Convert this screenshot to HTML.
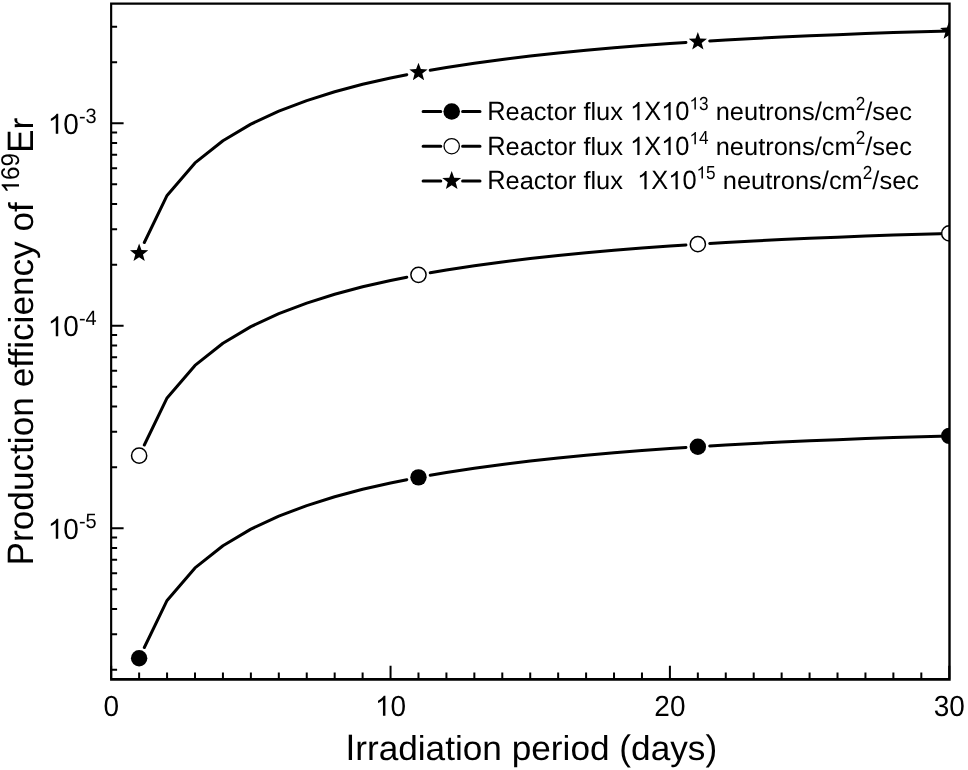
<!DOCTYPE html>
<html><head><meta charset="utf-8"><style>
html,body{margin:0;padding:0;background:#fff;width:968px;height:770px;overflow:hidden;}
svg{display:block;font-family:"Liberation Sans",sans-serif;filter:grayscale(1);text-rendering:geometricPrecision;}
</style></head><body>
<svg width="968" height="770" viewBox="0 0 968 770">
<defs>
<clipPath id="pc"><rect x="111.2" y="3.5" width="838.0999999999999" height="675.7"/></clipPath>
</defs>
<rect x="0" y="0" width="968" height="770" fill="#fff"/>
<g clip-path="url(#pc)"><g fill="none" stroke="#000" stroke-width="3.0" stroke-linejoin="round" stroke-linecap="round">
<polyline points="144.32,647.49 167.07,600.42 195.00,567.91 222.94,545.71 250.88,529.15 278.81,516.14 306.75,505.57 334.68,496.77 362.62,489.32 390.55,482.92 406.81,479.69"/>
<polyline points="430.21,475.32 446.42,472.50 474.35,468.21 502.29,464.41 530.23,461.02 558.16,457.98 586.10,455.25 614.03,452.79 641.97,450.56 669.90,448.54 685.96,447.48"/>
<polyline points="709.71,445.99 725.77,445.03 753.71,443.51 781.64,442.11 809.58,440.84 837.51,439.67 865.45,438.60 893.38,437.62 921.32,436.71 949.25,435.88"/>
<polyline points="144.32,444.99 167.07,397.92 195.00,365.41 222.94,343.21 250.88,326.65 278.81,313.64 306.75,303.07 334.68,294.27 362.62,286.82 390.55,280.42 406.81,277.19"/>
<polyline points="430.21,272.82 446.42,270.00 474.35,265.71 502.29,261.91 530.23,258.52 558.16,255.48 586.10,252.75 614.03,250.29 641.97,248.06 669.90,246.04 685.96,244.98"/>
<polyline points="709.71,243.49 725.77,242.53 753.71,241.01 781.64,239.61 809.58,238.34 837.51,237.17 865.45,236.10 893.38,235.12 921.32,234.21 949.25,233.38"/>
<polyline points="144.32,242.49 167.07,195.42 195.00,162.91 222.94,140.71 250.88,124.15 278.81,111.14 306.75,100.57 334.68,91.77 362.62,84.32 390.55,77.92 406.81,74.69"/>
<polyline points="430.21,70.32 446.42,67.50 474.35,63.21 502.29,59.41 530.23,56.02 558.16,52.98 586.10,50.25 614.03,47.79 641.97,45.56 669.90,43.54 685.96,42.48"/>
<polyline points="709.71,40.99 725.77,40.03 753.71,38.51 781.64,37.11 809.58,35.84 837.51,34.67 865.45,33.60 893.38,32.62 921.32,31.71 949.25,30.88"/>
</g>
<circle cx="139.13" cy="658.20" r="8.2" fill="#000"/>
<circle cx="418.48" cy="477.36" r="8.2" fill="#000"/>
<circle cx="697.84" cy="446.70" r="8.2" fill="#000"/>
<circle cx="949.25" cy="435.88" r="8.2" fill="#000"/>
<circle cx="139.13" cy="455.70" r="7.6" fill="#fff" stroke="#000" stroke-width="1.5"/>
<circle cx="418.48" cy="274.86" r="7.6" fill="#fff" stroke="#000" stroke-width="1.5"/>
<circle cx="697.84" cy="244.20" r="7.6" fill="#fff" stroke="#000" stroke-width="1.5"/>
<circle cx="949.25" cy="233.38" r="7.6" fill="#fff" stroke="#000" stroke-width="1.5"/>
<path d="M139.13,243.60 L141.50,249.94 L148.27,250.23 L142.97,254.45 L144.78,260.97 L139.13,257.23 L133.49,260.97 L135.30,254.45 L130.00,250.23 L136.77,249.94 Z" fill="#000"/>
<path d="M418.48,62.76 L420.85,69.10 L427.62,69.40 L422.32,73.61 L424.13,80.13 L418.48,76.40 L412.84,80.13 L414.65,73.61 L409.35,69.40 L416.12,69.10 Z" fill="#000"/>
<path d="M697.84,32.10 L700.20,38.44 L706.97,38.74 L701.67,42.95 L703.48,49.47 L697.84,45.73 L692.19,49.47 L694.00,42.95 L688.70,38.74 L695.47,38.44 Z" fill="#000"/>
<path d="M949.25,21.28 L951.62,27.62 L958.38,27.92 L953.08,32.13 L954.89,38.65 L949.25,34.91 L943.61,38.65 L945.42,32.13 L940.12,27.92 L946.88,27.62 Z" fill="#000"/>
</g>
<path d="M111.20,679.35 V665.80 M139.13,679.35 V672.50 M167.07,679.35 V672.50 M195.00,679.35 V672.50 M222.94,679.35 V672.50 M250.88,679.35 V672.50 M278.81,679.35 V672.50 M306.75,679.35 V672.50 M334.68,679.35 V672.50 M362.62,679.35 V672.50 M390.55,679.35 V665.80 M418.48,679.35 V672.50 M446.42,679.35 V672.50 M474.35,679.35 V672.50 M502.29,679.35 V672.50 M530.23,679.35 V672.50 M558.16,679.35 V672.50 M586.10,679.35 V672.50 M614.03,679.35 V672.50 M641.97,679.35 V672.50 M669.90,679.35 V665.80 M697.84,679.35 V672.50 M725.77,679.35 V672.50 M753.71,679.35 V672.50 M781.64,679.35 V672.50 M809.58,679.35 V672.50 M837.51,679.35 V672.50 M865.45,679.35 V672.50 M893.38,679.35 V672.50 M921.32,679.35 V672.50 M949.25,679.35 V665.80 M111.15,669.84 H117.10 M111.15,634.18 H117.10 M111.15,608.88 H117.10 M111.15,589.26 H117.10 M111.15,573.22 H117.10 M111.15,559.67 H117.10 M111.15,547.92 H117.10 M111.15,537.57 H117.10 M111.15,528.30 H123.60 M111.15,467.34 H117.10 M111.15,431.68 H117.10 M111.15,406.38 H117.10 M111.15,386.76 H117.10 M111.15,370.72 H117.10 M111.15,357.17 H117.10 M111.15,345.42 H117.10 M111.15,335.07 H117.10 M111.15,325.80 H123.60 M111.15,264.84 H117.10 M111.15,229.18 H117.10 M111.15,203.88 H117.10 M111.15,184.26 H117.10 M111.15,168.22 H117.10 M111.15,154.67 H117.10 M111.15,142.92 H117.10 M111.15,132.57 H117.10 M111.15,123.30 H123.60 M111.15,62.34 H117.10 M111.15,26.68 H117.10" stroke="#000" stroke-width="2.0" fill="none"/>
<path d="M110.075,2.450 H950.700 V4.750 H110.075 Z M110.075,678.050 H950.700 V680.650 H110.075 Z M110.075,2.450 H112.225 V680.650 H110.075 Z M948.300,2.450 H950.700 V680.650 H948.300 Z" fill="#000"/>
<g font-family="Liberation Sans, sans-serif" fill="#000">
<text x="103.414" y="715.800" font-size="28" transform="matrix(1 0 0 1.0400 0 -28.632)" xml:space="preserve">0</text>
<path d="M763,0 L583,0 L583,1147 Q518,1085 412,1023 Q306,961 222,930 L222,1104 Q373,1175 486,1276 Q599,1377 646,1466 L763,1466 Z" transform="matrix(0.01367 0 0 -0.01367 374.978 715.800)"/>
<text x="374.978" y="715.800" font-size="28" transform="matrix(1 0 0 1.0400 0 -28.632)" xml:space="preserve"> 0</text>
<text x="654.328" y="715.800" font-size="28" transform="matrix(1 0 0 1.0400 0 -28.632)" xml:space="preserve">20</text>
<text x="933.678" y="715.800" font-size="28" transform="matrix(1 0 0 1.0400 0 -28.632)" xml:space="preserve">30</text>
<path d="M763,0 L583,0 L583,1147 Q518,1085 412,1023 Q306,961 222,930 L222,1104 Q373,1175 486,1276 Q599,1377 646,1466 L763,1466 Z" transform="matrix(0.01367 0 0 -0.01367 47.800 133.800)"/>
<text x="47.800" y="133.800" font-size="28" transform="matrix(1 0 0 1.0400 0 -5.352)" xml:space="preserve"> 0</text>
<text x="78.945" y="122.900" font-size="20.0" transform="matrix(1 0 0 1.0088 0 -1.082)" xml:space="preserve">-</text>
<text x="85.605" y="122.900" font-size="20.0" transform="matrix(1 0 0 1.0400 0 -4.916)" xml:space="preserve">3</text>
<path d="M763,0 L583,0 L583,1147 Q518,1085 412,1023 Q306,961 222,930 L222,1104 Q373,1175 486,1276 Q599,1377 646,1466 L763,1466 Z" transform="matrix(0.01367 0 0 -0.01367 47.800 336.300)"/>
<text x="47.800" y="336.300" font-size="28" transform="matrix(1 0 0 1.0400 0 -13.452)" xml:space="preserve"> 0</text>
<text x="78.945" y="325.400" font-size="20.0" transform="matrix(1 0 0 1.0088 0 -2.864)" xml:space="preserve">-</text>
<text x="85.605" y="325.400" font-size="20.0" transform="matrix(1 0 0 1.0400 0 -13.016)" xml:space="preserve">4</text>
<path d="M763,0 L583,0 L583,1147 Q518,1085 412,1023 Q306,961 222,930 L222,1104 Q373,1175 486,1276 Q599,1377 646,1466 L763,1466 Z" transform="matrix(0.01367 0 0 -0.01367 47.800 538.800)"/>
<text x="47.800" y="538.800" font-size="28" transform="matrix(1 0 0 1.0400 0 -21.552)" xml:space="preserve"> 0</text>
<text x="78.945" y="527.900" font-size="20.0" transform="matrix(1 0 0 1.0088 0 -4.646)" xml:space="preserve">-</text>
<text x="85.605" y="527.900" font-size="20.0" transform="matrix(1 0 0 1.0400 0 -21.116)" xml:space="preserve">5</text>
<path d="M423.1,111.5 H440.8 M462.6,111.5 H480.0" stroke="#000" stroke-width="3" stroke-linecap="round" fill="none"/>
<circle cx="451.7" cy="111.5" r="8.3" fill="#000"/>
<text x="487.200" y="120.300" font-size="25.45" transform="matrix(1 0 0 1.0400 0 -4.812)" xml:space="preserve">R</text>
<text x="505.579" y="120.300" font-size="25.45" transform="matrix(1 0 0 0.9776 0 2.695)" xml:space="preserve">eactor</text>
<text x="583.383" y="120.300" font-size="25.45" transform="matrix(1 0 0 0.9776 0 2.695)" xml:space="preserve">flux</text>
<path d="M763,0 L583,0 L583,1147 Q518,1085 412,1023 Q306,961 222,930 L222,1104 Q373,1175 486,1276 Q599,1377 646,1466 L763,1466 Z" transform="matrix(0.01243 0 0 -0.01243 630.058 120.300)"/>
<path d="M763,0 L583,0 L583,1147 Q518,1085 412,1023 Q306,961 222,930 L222,1104 Q373,1175 486,1276 Q599,1377 646,1466 L763,1466 Z" transform="matrix(0.01243 0 0 -0.01243 661.187 120.300)"/>
<text x="630.058" y="120.300" font-size="25.45" transform="matrix(1 0 0 1.0400 0 -4.812)" xml:space="preserve"> X 0</text>
<path d="M763,0 L583,0 L583,1147 Q518,1085 412,1023 Q306,961 222,930 L222,1104 Q373,1175 486,1276 Q599,1377 646,1466 L763,1466 Z" transform="matrix(0.00840 0 0 -0.00840 689.495 109.600)"/>
<text x="689.495" y="109.600" font-size="17.2" transform="matrix(1 0 0 1.1000 0 -10.960)" xml:space="preserve"> 3</text>
<text x="715.698" y="120.300" font-size="25.45" transform="matrix(1 0 0 0.9776 0 2.695)" xml:space="preserve">neutrons</text>
<text x="814.739" y="120.300" font-size="25.45" transform="matrix(1 0 0 1.0088 0 -1.059)" xml:space="preserve">/</text>
<text x="821.810" y="120.300" font-size="25.45" transform="matrix(1 0 0 0.9776 0 2.695)" xml:space="preserve">cm</text>
<text x="855.735" y="109.600" font-size="17.2" transform="matrix(1 0 0 1.1000 0 -10.960)" xml:space="preserve">2</text>
<text x="865.301" y="120.300" font-size="25.45" transform="matrix(1 0 0 1.0088 0 -1.059)" xml:space="preserve">/</text>
<text x="872.371" y="120.300" font-size="25.45" transform="matrix(1 0 0 0.9776 0 2.695)" xml:space="preserve">sec</text>
<path d="M423.1,146.2 H440.8 M462.6,146.2 H480.0" stroke="#000" stroke-width="3" stroke-linecap="round" fill="none"/>
<circle cx="451.7" cy="146.2" r="7.65" fill="#fff" stroke="#000" stroke-width="1.3"/>
<text x="487.200" y="154.900" font-size="25.45" transform="matrix(1 0 0 1.0400 0 -6.196)" xml:space="preserve">R</text>
<text x="505.579" y="154.900" font-size="25.45" transform="matrix(1 0 0 0.9776 0 3.470)" xml:space="preserve">eactor</text>
<text x="583.383" y="154.900" font-size="25.45" transform="matrix(1 0 0 0.9776 0 3.470)" xml:space="preserve">flux</text>
<path d="M763,0 L583,0 L583,1147 Q518,1085 412,1023 Q306,961 222,930 L222,1104 Q373,1175 486,1276 Q599,1377 646,1466 L763,1466 Z" transform="matrix(0.01243 0 0 -0.01243 630.058 154.900)"/>
<path d="M763,0 L583,0 L583,1147 Q518,1085 412,1023 Q306,961 222,930 L222,1104 Q373,1175 486,1276 Q599,1377 646,1466 L763,1466 Z" transform="matrix(0.01243 0 0 -0.01243 661.187 154.900)"/>
<text x="630.058" y="154.900" font-size="25.45" transform="matrix(1 0 0 1.0400 0 -6.196)" xml:space="preserve"> X 0</text>
<path d="M763,0 L583,0 L583,1147 Q518,1085 412,1023 Q306,961 222,930 L222,1104 Q373,1175 486,1276 Q599,1377 646,1466 L763,1466 Z" transform="matrix(0.00840 0 0 -0.00840 689.495 144.200)"/>
<text x="689.495" y="144.200" font-size="17.2" transform="matrix(1 0 0 1.1000 0 -14.420)" xml:space="preserve"> 4</text>
<text x="715.698" y="154.900" font-size="25.45" transform="matrix(1 0 0 0.9776 0 3.470)" xml:space="preserve">neutrons</text>
<text x="814.739" y="154.900" font-size="25.45" transform="matrix(1 0 0 1.0088 0 -1.363)" xml:space="preserve">/</text>
<text x="821.810" y="154.900" font-size="25.45" transform="matrix(1 0 0 0.9776 0 3.470)" xml:space="preserve">cm</text>
<text x="855.735" y="144.200" font-size="17.2" transform="matrix(1 0 0 1.1000 0 -14.420)" xml:space="preserve">2</text>
<text x="865.301" y="154.900" font-size="25.45" transform="matrix(1 0 0 1.0088 0 -1.363)" xml:space="preserve">/</text>
<text x="872.371" y="154.900" font-size="25.45" transform="matrix(1 0 0 0.9776 0 3.470)" xml:space="preserve">sec</text>
<path d="M423.1,181.0 H440.8 M462.6,181.0 H480.0" stroke="#000" stroke-width="3" stroke-linecap="round" fill="none"/>
<path d="M451.70,171.10 L454.14,177.64 L461.12,177.94 L455.65,182.28 L457.52,189.01 L451.70,185.16 L445.88,189.01 L447.75,182.28 L442.28,177.94 L449.26,177.64 Z" fill="#000"/>
<text x="487.200" y="189.300" font-size="25.45" transform="matrix(1 0 0 1.0400 0 -7.572)" xml:space="preserve">R</text>
<text x="505.579" y="189.300" font-size="25.45" transform="matrix(1 0 0 0.9776 0 4.240)" xml:space="preserve">eactor</text>
<text x="583.383" y="189.300" font-size="25.45" transform="matrix(1 0 0 0.9776 0 4.240)" xml:space="preserve">flux</text>
<path d="M763,0 L583,0 L583,1147 Q518,1085 412,1023 Q306,961 222,930 L222,1104 Q373,1175 486,1276 Q599,1377 646,1466 L763,1466 Z" transform="matrix(0.01243 0 0 -0.01243 637.129 189.300)"/>
<path d="M763,0 L583,0 L583,1147 Q518,1085 412,1023 Q306,961 222,930 L222,1104 Q373,1175 486,1276 Q599,1377 646,1466 L763,1466 Z" transform="matrix(0.01243 0 0 -0.01243 668.258 189.300)"/>
<text x="637.129" y="189.300" font-size="25.45" transform="matrix(1 0 0 1.0400 0 -7.572)" xml:space="preserve"> X 0</text>
<path d="M763,0 L583,0 L583,1147 Q518,1085 412,1023 Q306,961 222,930 L222,1104 Q373,1175 486,1276 Q599,1377 646,1466 L763,1466 Z" transform="matrix(0.00840 0 0 -0.00840 696.566 178.600)"/>
<text x="696.566" y="178.600" font-size="17.2" transform="matrix(1 0 0 1.1000 0 -17.860)" xml:space="preserve"> 5</text>
<text x="722.768" y="189.300" font-size="25.45" transform="matrix(1 0 0 0.9776 0 4.240)" xml:space="preserve">neutrons</text>
<text x="821.810" y="189.300" font-size="25.45" transform="matrix(1 0 0 1.0088 0 -1.666)" xml:space="preserve">/</text>
<text x="828.881" y="189.300" font-size="25.45" transform="matrix(1 0 0 0.9776 0 4.240)" xml:space="preserve">cm</text>
<text x="862.806" y="178.600" font-size="17.2" transform="matrix(1 0 0 1.1000 0 -17.860)" xml:space="preserve">2</text>
<text x="872.371" y="189.300" font-size="25.45" transform="matrix(1 0 0 1.0088 0 -1.666)" xml:space="preserve">/</text>
<text x="879.442" y="189.300" font-size="25.45" transform="matrix(1 0 0 0.9776 0 4.240)" xml:space="preserve">sec</text>
<text x="345.434" y="759.700" font-size="35.2" transform="matrix(1 0 0 1.0450 0 -34.186)" xml:space="preserve">I</text>
<text x="355.214" y="759.700" font-size="35.2" transform="matrix(1 0 0 0.9823 0 13.447)" xml:space="preserve">rradiation</text>
<text x="511.741" y="759.700" font-size="35.2" transform="matrix(1 0 0 0.9823 0 13.447)" xml:space="preserve">period</text>
<text x="609.589" y="759.700" font-size="35.2" transform="matrix(1 0 0 1.0136 0 -10.370)" xml:space="preserve"> (</text>
<text x="631.091" y="759.700" font-size="35.2" transform="matrix(1 0 0 0.9823 0 13.447)" xml:space="preserve">days</text>
<text x="705.444" y="759.700" font-size="35.2" transform="matrix(1 0 0 1.0136 0 -10.370)" xml:space="preserve">)</text>
<g transform="rotate(-90)">
<text x="-565.400" y="33.000" font-size="35.2" transform="matrix(1 0 0 1.0450 0 -1.485)" xml:space="preserve">P</text>
<text x="-541.922" y="33.000" font-size="35.2" transform="matrix(1 0 0 0.9823 0 0.584)" xml:space="preserve">roduction</text>
<text x="-387.337" y="33.000" font-size="35.2" transform="matrix(1 0 0 0.9823 0 0.584)" xml:space="preserve">efficiency</text>
<text x="-231.464" y="33.000" font-size="35.2" transform="matrix(1 0 0 0.9823 0 0.584)" xml:space="preserve">of</text>
<path d="M763,0 L583,0 L583,1147 Q518,1085 412,1023 Q306,961 222,930 L222,1104 Q373,1175 486,1276 Q599,1377 646,1466 L763,1466 Z" transform="matrix(0.01182 0 0 -0.01182 -193.377 19.000)"/>
<text x="-193.377" y="19.000" font-size="24.2" transform="matrix(1 0 0 1.0600 0 -1.140)" xml:space="preserve"> 69</text>
<text x="-152.900" y="33.000" font-size="35.2" transform="matrix(1 0 0 1.0450 0 -1.485)" xml:space="preserve">E</text>
<text x="-129.422" y="33.000" font-size="35.2" transform="matrix(1 0 0 0.9823 0 0.584)" xml:space="preserve">r</text>
</g>
</g>
</svg>
</body></html>
